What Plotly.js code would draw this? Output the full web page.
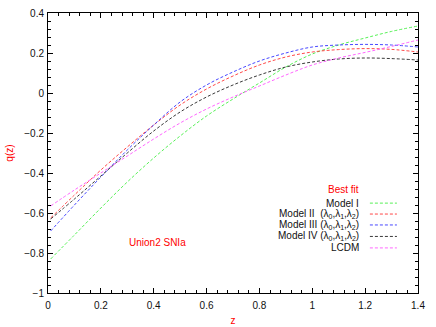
<!DOCTYPE html>
<html>
<head>
<meta charset="utf-8">
<script src="https://cdn.plot.ly/plotly-3.0.1.min.js"></script>
<style>
  html, body { margin: 0; padding: 0; background: #fff; }
  #chart { width: 436px; height: 327px; }
</style>
</head>
<body>
<div id="chart"></div>
<script>
// redshift samples
const zVals = [0.01, 0.1, 0.2, 0.3, 0.4, 0.5, 0.6, 0.7, 0.8, 0.9, 1.0, 1.1, 1.2, 1.3, 1.4];

// q(z) for each best-fit model
const qModel1 = [-0.83, -0.71, -0.575, -0.445, -0.325, -0.215, -0.115, -0.03, 0.05, 0.13, 0.195, 0.24, 0.275, 0.308, 0.335];
const qModel2 = [-0.625, -0.51, -0.385, -0.27, -0.16, -0.06, 0.02, 0.085, 0.14, 0.18, 0.205, 0.217, 0.222, 0.218, 0.205];
const qModel3 = [-0.69, -0.56, -0.42, -0.285, -0.16, -0.045, 0.04, 0.105, 0.16, 0.2, 0.23, 0.24, 0.243, 0.24, 0.23];
const qModel4 = [-0.63, -0.53, -0.415, -0.3, -0.19, -0.095, -0.02, 0.04, 0.09, 0.13, 0.155, 0.17, 0.175, 0.172, 0.165];
const qLCDM   = [-0.565, -0.485, -0.4, -0.315, -0.23, -0.15, -0.08, -0.02, 0.035, 0.09, 0.14, 0.175, 0.203, 0.233, 0.265];

const seriesNames = ['Model I', 'Model II&nbsp;&nbsp;(λ<sub>0</sub>,λ<sub>1</sub>,λ<sub>2</sub>)',
  'Model III (λ<sub>0</sub>,λ<sub>1</sub>,λ<sub>2</sub>)', 'Model IV (λ<sub>0</sub>,λ<sub>1</sub>,λ<sub>2</sub>)', 'LCDM'];
const seriesColors = ['#44ee44', '#ff3333', '#3333ff', '#222222', '#ff55ff'];
const seriesData = [qModel1, qModel2, qModel3, qModel4, qLCDM];

const FONT = 'Liberation Sans, Arial, sans-serif';

const traces = seriesData.map((q, i) => ({
  x: zVals,
  y: q,
  type: 'scatter',
  mode: 'lines',
  line: { color: seriesColors[i], width: 0.9, dash: '3px,2px', shape: 'spline', smoothing: 1 },
  showlegend: false,
  hoverinfo: 'skip'
}));

// hand-made gnuplot style key (text left, sample on the right)
const keyRowsY = [0.321, 0.282, 0.243, 0.202, 0.161];
const annotations = [
  { text: 'Best fit', x: 0.7986, y: 0.371, xref: 'paper', yref: 'paper', xanchor: 'center', yanchor: 'middle',
    showarrow: false, font: { family: FONT, size: 10, color: '#ff0000' } },
  { text: 'Union2 SNIa', x: 0.2946, y: 0.1786, xref: 'paper', yref: 'paper', xanchor: 'center', yanchor: 'middle',
    showarrow: false, font: { family: FONT, size: 10, color: '#ff0000' } }
];
const shapes = [];
seriesNames.forEach((name, i) => {
  annotations.push({
    text: name, x: 0.846, y: keyRowsY[i], xref: 'paper', yref: 'paper',
    xanchor: 'right', yanchor: 'middle', showarrow: false,
    font: { family: FONT, size: 10, color: '#111' }
  });
  shapes.push({
    type: 'line', xref: 'paper', yref: 'paper',
    x0: 0.870, x1: 0.943, y0: keyRowsY[i], y1: keyRowsY[i],
    line: { color: seriesColors[i], width: 0.9, dash: '3px,2px' }
  });
});

const axisCommon = {
  showgrid: false,
  zeroline: false,
  showline: true,
  linecolor: '#000',
  linewidth: 1,
  mirror: 'allticks',
  ticks: 'inside',
  ticklen: 5,
  tickcolor: '#000',
  tickfont: { family: FONT, size: 10, color: '#111' },
  minor: { ticks: 'inside', ticklen: 3, dtick: 0.04, tickcolor: '#000' }
};

const layout = {
  width: 436,
  height: 327,
  margin: { l: 48, r: 18, t: 13, b: 34 },
  paper_bgcolor: '#fff',
  plot_bgcolor: '#fff',
  xaxis: Object.assign({}, axisCommon, {
    range: [0, 1.4], dtick: 0.2, tick0: 0, ticklabelstandoff: 3,
    title: { text: 'z', font: { family: FONT, size: 10, color: '#ff0000' }, standoff: 6 }
  }),
  yaxis: Object.assign({}, axisCommon, {
    range: [-1, 0.4], dtick: 0.2, tick0: 0, ticklabelstandoff: 1,
    title: { text: 'q(z)', font: { family: FONT, size: 10, color: '#ff0000' }, standoff: 8 }
  }),
  annotations: annotations,
  shapes: shapes
};

Plotly.newPlot('chart', traces, layout, { staticPlot: true, displayModeBar: false });
</script>
</body>
</html>
